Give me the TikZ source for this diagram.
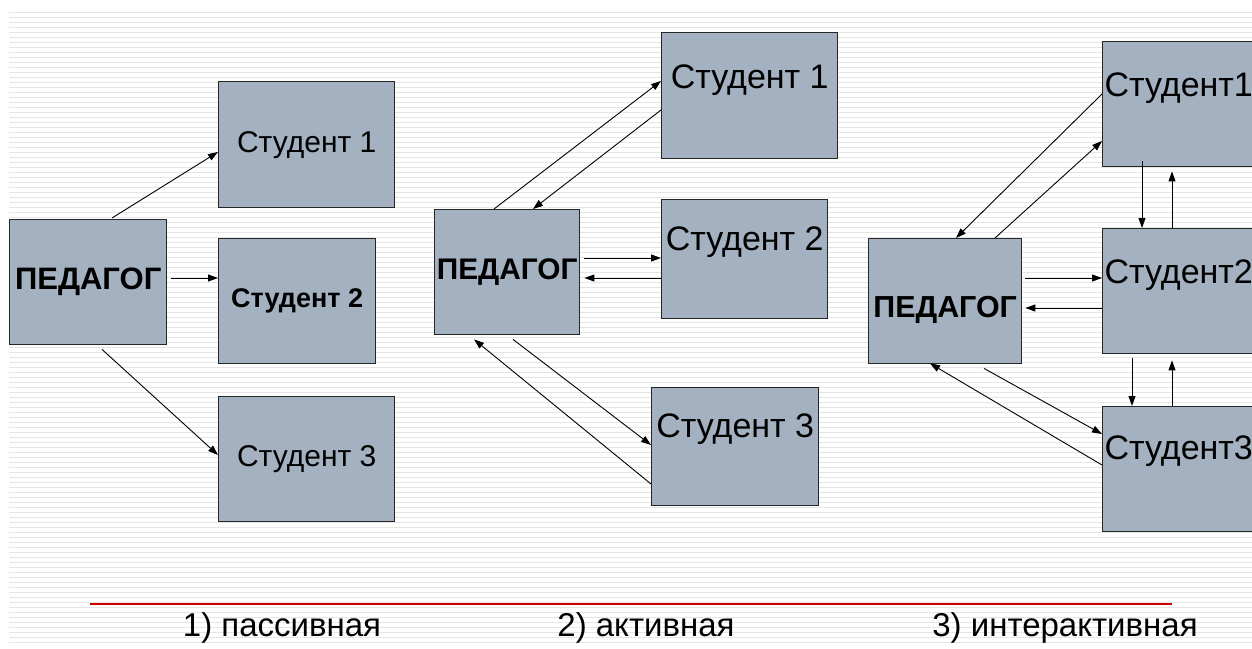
\documentclass[tikz,border=0pt]{standalone}
\usepackage{fontspec}
\setmainfont{Liberation Sans}
\usetikzlibrary{arrows.meta,calc}
\definecolor{cellfill}{RGB}{163,177,192}
\definecolor{rulered}{RGB}{204,0,0}
\begin{document}
\begin{tikzpicture}[x=1pt, y=-1pt,
   cell/.style 2 args={draw=black!85, line width=1.4pt, fill=cellfill,
                       inner sep=0pt, anchor=north west,
                       minimum width=#1, minimum height=#2},
   link/.style={line width=0.9pt, -{Triangle[length=10pt,width=7pt]}},
   stripe/.style={black!10, line width=1.5pt},
   big/.style={font=\fontsize{34}{40}\selectfont},
   mid/.style={font=\fontsize{30}{36}\selectfont},
   boss/.style={font=\bfseries\fontsize{#1}{36}\selectfont},
   caption/.style={anchor=base, font=\fontsize{33}{40}\selectfont}]

\useasboundingbox (0,0) rectangle (1252,648);
\clip (0,0) rectangle (1252,648);
\foreach \y in {12.5,17.5,...,645}
  \draw[stripe] (9,\y) -- (1252,\y);

% 1) passive
\node[cell={157pt}{125pt}, boss=31] (p1) at (9,219) {ПЕДАГОГ};
\node[cell={176pt}{126pt}, mid] (a1) at (218,81) {Студент 1};
\node[cell={157pt}{125pt}, boss=27] (a2) at (218,238) {Студент 2};
\node[cell={176pt}{125pt}, mid] (a3) at (218,396) {Студент 3};

\draw[link] ($(p1.north west)+(103,-1)$) -- ($(a1.north west)+(0,71)$);
\draw[link] ($(p1.north east)+(4,59)$) -- ($(a2.north west)+(0,40)$);
\draw[link] ($(p1.south west)+(93,4)$) -- ($(a3.north west)+(0,59)$);

% 2) active
\node[cell={145pt}{125pt}, boss=29.8] (q) at (434,209) {ПЕДАГОГ};
\node[cell={176pt}{126pt}, big, text height=56pt, text depth=70pt] (b1) at (661,32) {Студент 1};
\node[cell={166pt}{119pt}, big, text height=51pt, text depth=68pt] (b2) at (661,199) {Студент 2};
\node[cell={167pt}{118pt}, big, text height=50pt, text depth=68pt] (b3) at (651,387) {Студент 3};

\draw[link] ($(q.north west)+(60,0)$) -- ($(b1.north west)+(0,49)$);
\draw[link] ($(b1.north west)+(0,78)$) -- ($(q.north west)+(99,0)$);
\draw[link] ($(q.north east)+(4,49)$) -- ($(b2.north west)+(0,59)$);
\draw[link] ($(b2.north west)+(0,79)$) -- ($(q.north east)+(4,69)$);
\draw[link] ($(q.south west)+(79,4)$) -- ($(b3.north west)+(0,58)$);
\draw[link] ($(b3.north west)+(0,97)$) -- ($(q.south west)+(40,4)$);

% 3) interactive
\node[cell={153pt}{125pt}, boss=30.4, text height=79pt, text depth=46pt] (r) at (868,238) {ПЕДАГОГ};
\node[cell={152pt}{125pt}, big, text height=55pt, text depth=70pt] (c1) at (1102,41) {Студент1};
\node[cell={152pt}{125pt}, big, text height=55pt, text depth=70pt] (c2) at (1102,228) {Студент2};
\node[cell={152pt}{125pt}, big, text height=53pt, text depth=72pt] (c3) at (1102,406) {Студент3};

\draw[link] ($(c1.north west)+(0,53)$) -- ($(r.north west)+(88,0)$);
\draw[link] ($(r.north west)+(127,0)$) -- ($(c1.north west)+(0,100)$);
\draw[link] ($(c1.south west)+(40,-6)$) -- ($(c2.north west)+(40,0)$);
\draw[link] ($(c2.north west)+(70,0)$) -- ($(c1.south west)+(70,4)$);
\draw[link] ($(r.north east)+(3,40)$) -- ($(c2.north west)+(0,50)$);
\draw[link] ($(c2.north west)+(0,80)$) -- ($(r.north east)+(3,70)$);
\draw[link] ($(c2.south west)+(30,4)$) -- ($(c3.north west)+(30,0)$);
\draw[link] ($(c3.north west)+(70,0)$) -- ($(c2.south west)+(70,6)$);
\draw[link] ($(r.south west)+(116,4)$) -- ($(c3.north west)+(0,28)$);
\draw[link] ($(c3.north west)+(0,59)$) -- ($(r.south west)+(62,-1)$);

% captions
\draw[rulered, line width=1.8pt] (90,604) -- (1172,604);
\node[caption] (t1) at (282,636) {1) пассивная};
\node[caption] (t2) at (646,636) {2) активная};
\node[caption] (t3) at (1065,636) {3) интерактивная};

\end{tikzpicture}
\end{document}
